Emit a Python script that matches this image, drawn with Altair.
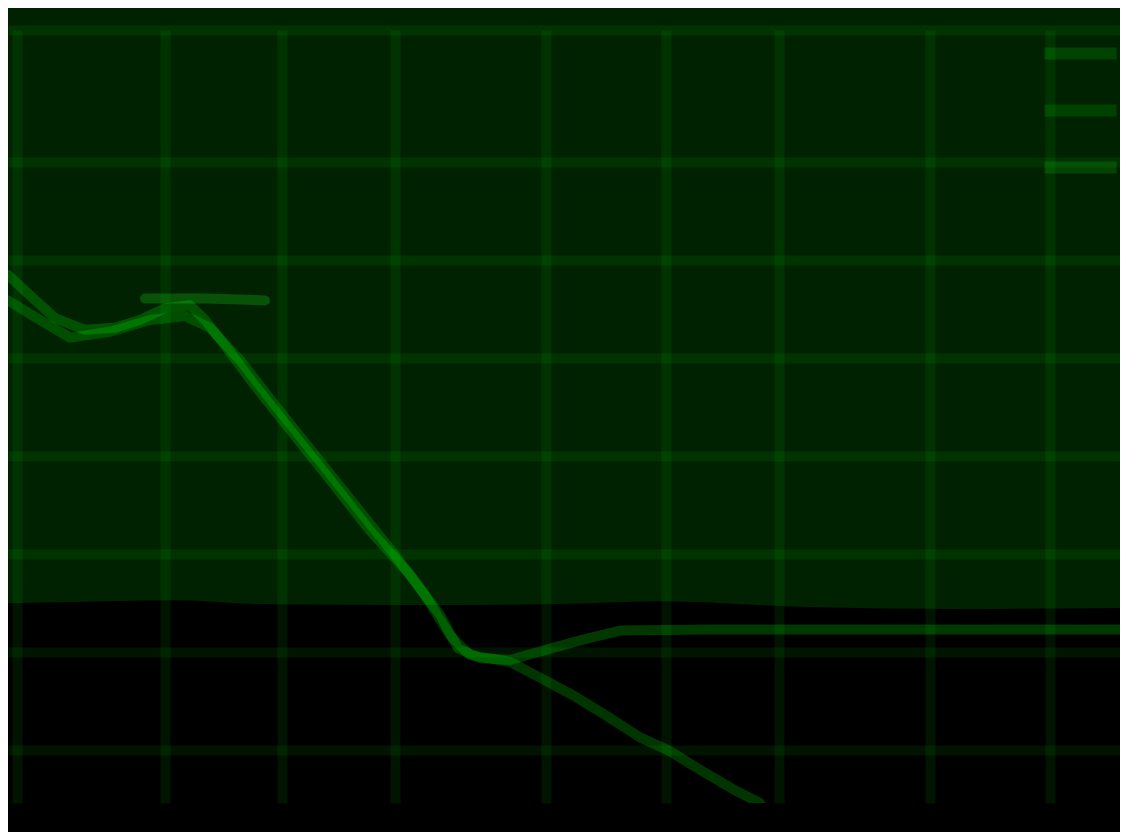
import altair as alt
import pandas as pd

# ---- data ----
series_names = ["A", "B", "C"]

s1_x = [0, 22, 47, 77, 107, 132, 157, 182, 197, 217, 247, 282, 322, 362, 402, 432, 450, 472, 502, 537, 572, 612, 700, 800, 900, 1000, 1112]
s1_y = [48.5, 46.4, 44.1, 42.9, 43.1, 43.9, 45.1, 45.4, 43.9, 41.3, 37.2, 32.7, 27.6, 22.4, 17.9, 13.8, 10.4, 9.4, 9.2, 10.2, 11.2, 12.2, 12.3, 12.3, 12.3, 12.3, 12.3]

s2_x = [0, 32, 62, 102, 142, 177, 202, 232, 267, 307, 347, 387, 417, 442, 462, 502, 532, 565, 597, 632, 660, 692, 727, 752]
s2_y = [45.9, 43.9, 42.1, 42.7, 43.9, 44.3, 43.1, 39.8, 35.2, 30.1, 25.0, 19.9, 15.8, 11.7, 9.7, 9.0, 7.4, 5.6, 3.6, 1.3, 0.0, -2.0, -4.1, -5.4]

s3_x = [137, 197, 257]
s3_y = [46.1, 46.1, 45.9]

band_x = [0, 100, 170, 250, 400, 550, 650, 800, 950, 1112]
band_top = [15.0, 15.2, 15.3, 14.9, 14.8, 14.9, 15.2, 14.6, 14.4, 14.5]
band_bottom = [-20] * len(band_x)

x_ticks = [9, 157, 274, 387, 538, 658, 771, 922, 1042]
y_ticks = [0, 10, 20, 30, 40, 50, 60, 73.5]
x_domain = [0, 1112]
y_domain = [-5.4, 73.5]

# ---- tables ----
rows = []
for name, xs, ys in zip(series_names, [s1_x, s2_x, s3_x], [s1_y, s2_y, s3_y]):
    for i, (xv, yv) in enumerate(zip(xs, ys)):
        rows.append({"series": name, "x": xv, "y": yv, "order": i})
lines_df = pd.DataFrame(rows)
band_df = pd.DataFrame({"x": band_x, "top": band_top, "bottom": band_bottom})

x_scale = alt.Scale(domain=x_domain, nice=False, zero=False)
y_scale = alt.Scale(domain=y_domain, nice=False, zero=False)

x_axis = alt.Axis(values=x_ticks, labels=False, ticks=False, domain=False, title=None,
                  grid=True, gridColor="#00ff00", gridOpacity=0.08, gridWidth=10, zindex=1)
y_axis = alt.Axis(values=y_ticks, labels=False, ticks=False, domain=False, title=None,
                  grid=True, gridColor="#00ff00", gridOpacity=0.08, gridWidth=10, zindex=1)

band = alt.Chart(band_df).mark_area(color="#000000", clip=False, interpolate="monotone").encode(
    x=alt.X("x:Q", scale=x_scale, axis=x_axis),
    y=alt.Y("top:Q", scale=y_scale, axis=y_axis),
    y2="bottom:Q",
)

lines = alt.Chart(lines_df).mark_line(
    strokeWidth=10, opacity=0.22, strokeCap="round", strokeJoin="round", clip=True
).encode(
    x=alt.X("x:Q", scale=x_scale, axis=x_axis),
    y=alt.Y("y:Q", scale=y_scale, axis=y_axis),
    order="order:Q",
    color=alt.Color(
        "series:N",
        scale=alt.Scale(domain=series_names, range=["#00ff00", "#00f000", "#22ff22"]),
        legend=alt.Legend(
            orient="none", legendX=1040, legendY=-9, title=None,
            symbolType="M-1.36,0H1.36", symbolSize=2809, symbolStrokeWidth=12,
            symbolOpacity=0.15, symbolFillColor="transparent", padding=0, rowPadding=0,
            labelExpr="''", labelFontSize=12,
        ),
    ),
)

chart = alt.layer(band, lines).properties(
    width=1112,
    height=773,
    background="#002200",
    padding={"left": 0, "top": 22, "right": 0, "bottom": 29},
    autosize=alt.AutoSizeParams(type="none"),
).configure_view(strokeWidth=0)

chart.save("out.html", embed_options={"renderer": "svg", "actions": False})
